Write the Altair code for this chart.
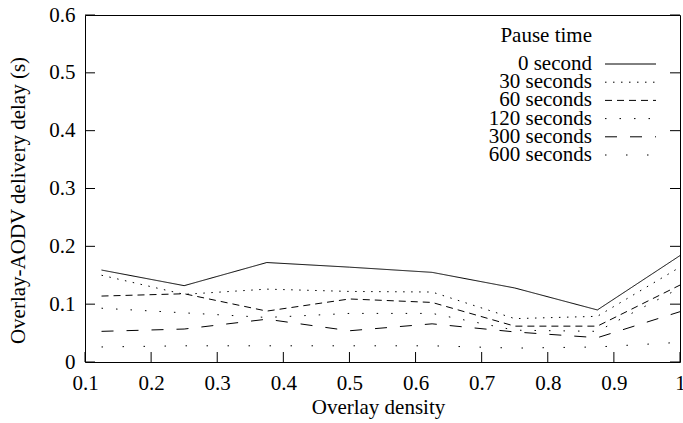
import altair as alt
import pandas as pd

# ---- data ----
density = [0.125, 0.25, 0.375, 0.5, 0.625, 0.75, 0.875, 1.0]
series_names = ["0 second", "30 seconds", "60 seconds", "120 seconds", "300 seconds", "600 seconds"]
delay_0 = [0.159, 0.132, 0.172, 0.164, 0.155, 0.128, 0.090, 0.184]
delay_30 = [0.150, 0.117, 0.126, 0.122, 0.121, 0.075, 0.079, 0.164]
delay_60 = [0.114, 0.118, 0.088, 0.109, 0.103, 0.062, 0.062, 0.133]
delay_120 = [0.093, 0.085, 0.077, 0.084, 0.084, 0.055, 0.053, 0.128]
delay_300 = [0.053, 0.057, 0.074, 0.054, 0.066, 0.052, 0.042, 0.087]
delay_600 = [0.026, 0.028, 0.028, 0.028, 0.028, 0.024, 0.026, 0.034]
x_ticks = [0.1, 0.2, 0.3, 0.4, 0.5, 0.6, 0.7, 0.8, 0.9, 1.0]
y_ticks = [0.0, 0.1, 0.2, 0.3, 0.4, 0.5, 0.6]
legend_title = "Pause time"
x_title = "Overlay density"
y_title = "Overlay-AODV delivery delay (s)"

all_series = [delay_0, delay_30, delay_60, delay_120, delay_300, delay_600]
rows = []
for name, vals in zip(series_names, all_series):
    for d, v in zip(density, vals):
        rows.append({"density": d, "delay": v, "pause": name})
df = pd.DataFrame(rows)

# ---- styling ----
W, H = 595, 347
FONT = "Liberation Serif"
FS = 21
TICK = 10
dash_range = [[1, 0], [1.5, 6.5], [7, 5], [1.5, 13], [12, 13], [1.5, 19.5]]

xscale = alt.Scale(domain=[0.1, 1.0], nice=False, zero=False)
yscale = alt.Scale(domain=[0.0, 0.6], nice=False, zero=False)
dash_scale = alt.Scale(domain=series_names, range=dash_range)

x_axis = alt.Axis(values=x_ticks, format="~g", title=x_title,
                  labelPadding=10, titleX=293, titleY=45,
                  titleBaseline="middle", titleAlign="center")
y_axis = alt.Axis(values=y_ticks, format="~g", title=y_title,
                  labelPadding=10, titleX=-67, titleY=185,
                  titleAngle=270, titleBaseline="middle", titleAlign="center")

lines = alt.Chart(df).mark_line(color="black", strokeWidth=1).encode(
    x=alt.X("density:Q", scale=xscale, axis=x_axis),
    y=alt.Y("delay:Q", scale=yscale, axis=y_axis),
    strokeDash=alt.StrokeDash("pause:N", scale=dash_scale, legend=None),
    detail="pause:N",
)

ydf = pd.DataFrame({"v": y_ticks})
xdf = pd.DataFrame({"v": x_ticks})
left_ticks = alt.Chart(ydf).mark_rule(color="black", strokeWidth=1).encode(
    y=alt.Y("v:Q", scale=yscale, axis=None),
    x=alt.value(0), x2=alt.value(TICK))
right_ticks = alt.Chart(ydf).mark_rule(color="black", strokeWidth=1).encode(
    y=alt.Y("v:Q", scale=yscale, axis=None),
    x=alt.value(W - TICK), x2=alt.value(W))
bottom_ticks = alt.Chart(xdf).mark_rule(color="black", strokeWidth=1).encode(
    x=alt.X("v:Q", scale=xscale, axis=x_axis),
    y=alt.value(H), y2=alt.value(H - TICK))

# ---- manual legend (labels left, samples right, as in gnuplot) ----
leg_df = pd.DataFrame({"pause": series_names, "idx": list(range(len(series_names)))})
leg_y = alt.Y("idx:Q", scale=alt.Scale(domain=[0, 5], range=[49, 140]), axis=None)
leg_text = alt.Chart(leg_df).mark_text(
    align="right", baseline="middle", font=FONT, fontSize=FS, color="black"
).encode(x=alt.value(507), y=leg_y, text="pause:N")
leg_lines = alt.Chart(leg_df).mark_rule(color="black", strokeWidth=1).encode(
    x=alt.value(520), x2=alt.value(571), y=leg_y,
    strokeDash=alt.StrokeDash("pause:N", scale=dash_scale, legend=None))
leg_title = alt.Chart(pd.DataFrame({"t": [legend_title]})).mark_text(
    align="right", baseline="middle", font=FONT, fontSize=FS, color="black"
).encode(x=alt.value(507), y=alt.value(21), text="t:N")

chart = alt.layer(
    lines, bottom_ticks, left_ticks, right_ticks, leg_title, leg_text, leg_lines
).resolve_scale(y="independent").properties(
    width=W, height=H,
    padding={"left": 85, "top": 15, "right": 3, "bottom": 61},
    autosize=alt.AutoSizeParams(type="none"),
    background="white",
).configure_view(
    stroke="black", strokeWidth=1
).configure_axis(
    domain=False, ticks=False, grid=False, labelFlush=False,
    labelFont=FONT, labelFontSize=FS, labelColor="black",
    titleFont=FONT, titleFontSize=FS, titleFontWeight="normal", titleColor="black",
)

chart.save("out.html", embed_options={"renderer": "svg", "actions": False})
